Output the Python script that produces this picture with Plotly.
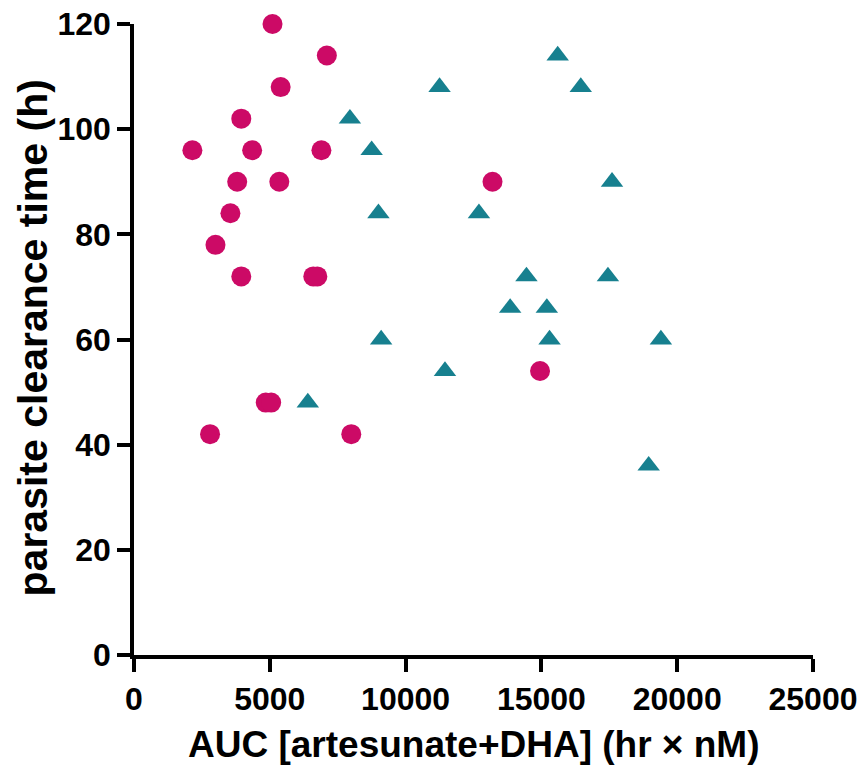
import plotly.graph_objects as go

# Group 1 (magenta circles)
circ_x = [5100, 7100, 5400, 3950, 2150, 4350, 6900, 3800, 5350, 3550, 3000,
          3950, 6600, 6750, 4850, 5050, 2800, 8000, 13200, 14950]
circ_y = [120, 114, 108, 102, 96, 96, 96, 90, 90, 84, 78,
          72, 72, 72, 48, 48, 42, 42, 90, 54]

# Group 2 (teal triangles)
tri_x = [7950, 8750, 9000, 9100, 6400, 15600, 11250, 16450, 17600, 12700,
         14450, 17450, 13850, 15200, 15300, 19400, 11450, 18950]
tri_y = [102, 96, 84, 60, 48, 114, 108, 108, 90, 84,
         72, 72, 66, 66, 60, 60, 54, 36]

x_ticks = [0, 5000, 10000, 15000, 20000, 25000]
y_ticks = [0, 20, 40, 60, 80, 100, 120]

x_title = "AUC [artesunate+DHA] (hr \u00d7 nM)"
y_title = "parasite clearance time (h)"

FONT = "Arial, Liberation Sans, Helvetica, sans-serif"
PINK = "#CC0A66"
TEAL = "#17808F"

fig = go.Figure()
fig.add_trace(go.Scatter(x=circ_x, y=circ_y, mode="markers", cliponaxis=False,
                         marker=dict(symbol="circle", size=20, color=PINK),
                         showlegend=False))
fig.add_trace(go.Scatter(x=tri_x, y=tri_y, mode="markers", cliponaxis=False,
                         marker=dict(symbol="triangle-up", size=19.5, color=TEAL),
                         showlegend=False))

axis_common = dict(showgrid=False, zeroline=False, showline=True, linecolor="black",
                   linewidth=3.5, ticks="outside", ticklen=13, tickwidth=3.5,
                   tickcolor="black",
                   tickfont=dict(family=FONT, size=32, color="black", weight="bold"))

fig.update_xaxes(range=[0, 25000], tickvals=x_ticks,
                 ticktext=[str(v) for v in x_ticks], **axis_common)
fig.update_yaxes(range=[0, 120], tickvals=y_ticks,
                 ticktext=[str(v) for v in y_ticks], **axis_common)

fig.add_annotation(text=y_title, xref="paper", yref="paper", x=-0.149, y=0.503,
                   xanchor="center", yanchor="middle", textangle=-90, showarrow=False,
                   font=dict(family=FONT, size=41, color="black", weight="bold"))
fig.add_annotation(text=x_title, xref="paper", yref="paper", x=0.5, y=-0.142,
                   xanchor="center", yanchor="middle", showarrow=False,
                   font=dict(family=FONT, size=37, color="black", weight="bold"))

fig.update_layout(width=864, height=781, plot_bgcolor="white", paper_bgcolor="white",
                  margin=dict(l=134, r=51, t=24, b=126, autoexpand=False))

fig.write_html("out.html")
